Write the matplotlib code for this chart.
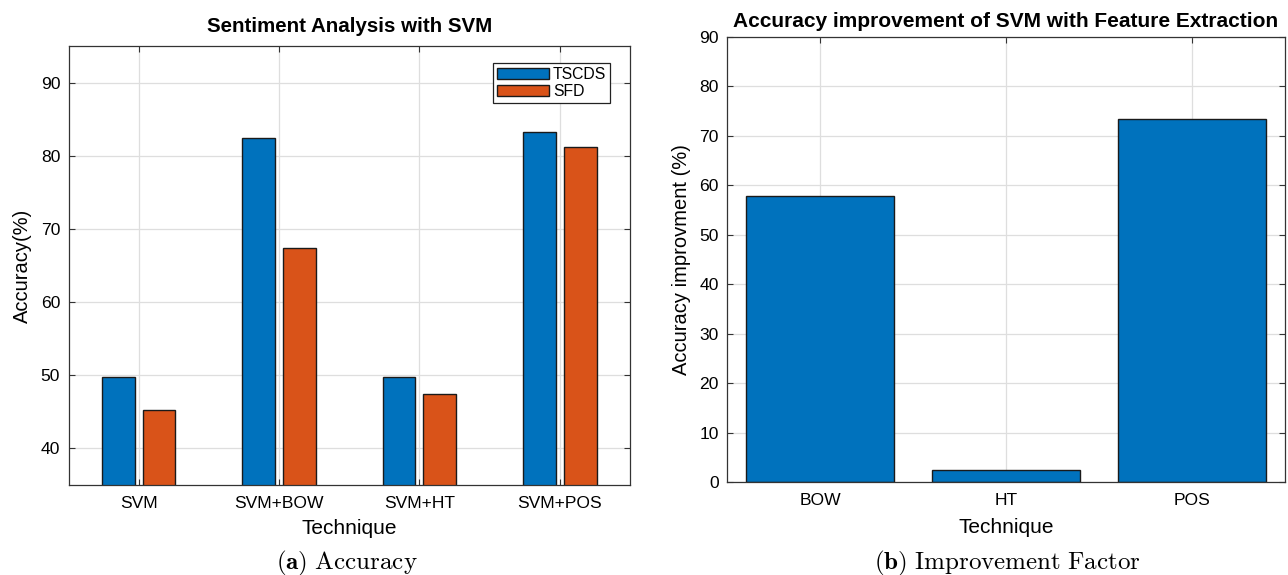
import matplotlib
matplotlib.use("Agg")
import matplotlib.pyplot as plt
import numpy as np

plt.rcParams["font.family"] = ["Liberation Sans", "DejaVu Sans"]
plt.rcParams["mathtext.fontset"] = "cm"

# Accuracy of each technique on the two datasets
techniques = ["SVM", "SVM+BOW", "SVM+HT", "SVM+POS"]
tscds = [49.7, 82.4, 49.7, 83.3]
sfd = [45.2, 67.4, 47.5, 81.2]

# Improvement factor of each feature extraction method
features = ["BOW", "HT", "POS"]
improvement = [57.8, 2.5, 73.5]

BLUE = "#0072BD"
ORANGE = "#D95319"
GRID = "#dedede"
SPINE = "#333333"
W, H = 1288, 575

fig = plt.figure(figsize=(W / 100, H / 100), dpi=100)


def style_axes(ax):
    ax.set_axisbelow(True)
    ax.grid(True, color=GRID, linewidth=0.9)
    ax.tick_params(direction="in", top=True, right=True, length=4,
                   labelsize=12.6, color=SPINE)
    ax.tick_params(axis="x", pad=8)
    ax.tick_params(axis="y", pad=6)
    for s in ax.spines.values():
        s.set_color(SPINE)
        s.set_linewidth(0.9)


def pix_axes(left, right, top, bottom):
    return fig.add_axes([left / W, 1 - bottom / H, (right - left) / W, (bottom - top) / H])


# (a) grouped bars
L1, R1, T1, B1 = 68.5, 630, 46, 485
ax1 = pix_axes(L1, R1, T1, B1)
x = np.arange(1, len(techniques) + 1)
off = 0.145
w = 0.233
ax1.bar(x - off, tscds, w, color=BLUE, edgecolor="#1a1a1a", linewidth=1.0, label="TSCDS")
ax1.bar(x + off, sfd, w, color=ORANGE, edgecolor="#1a1a1a", linewidth=1.0, label="SFD")
ax1.set_xlim(0.5, 4.5)
ax1.set_ylim(35, 95)
ax1.set_yticks([40, 50, 60, 70, 80, 90])
ax1.set_xticks(x)
ax1.set_xticklabels(techniques)
style_axes(ax1)
ax1.set_xlabel("Technique", fontsize=15, labelpad=6)
ax1.set_ylabel("Accuracy(%)", fontsize=14.5, labelpad=6)
ax1.set_title("Sentiment Analysis with SVM", fontsize=14.8, fontweight="bold", pad=10)
leg = ax1.legend(loc="upper right",
                 bbox_to_anchor=((610 - L1) / (R1 - L1), 1 - (63 - T1) / (B1 - T1)),
                 borderaxespad=0, fontsize=11.3, handlelength=3.3, handleheight=0.75,
                 borderpad=0.25, labelspacing=0.12, handletextpad=0.25,
                 fancybox=False, framealpha=1, edgecolor="#222222")
leg.get_frame().set_linewidth(0.9)

# (b) single bars
ax2 = pix_axes(727, 1285, 37, 482)
x2 = np.arange(1, len(features) + 1)
ax2.bar(x2, improvement, 0.8, color=BLUE, edgecolor="#1a1a1a", linewidth=1.0)
ax2.set_xlim(0.5, 3.5)
ax2.set_ylim(0, 90)
ax2.set_yticks(np.arange(0, 91, 10))
ax2.set_xticks(x2)
ax2.set_xticklabels(features)
style_axes(ax2)
ax2.set_xlabel("Technique", fontsize=15, labelpad=7)
ax2.set_ylabel("Accuracy improvment (%)", fontsize=14.5, labelpad=6)
ax2.set_title("Accuracy improvement of SVM with Feature Extraction", fontsize=15,
              fontweight="bold", pad=7)

# sub-figure captions
fig.text(347 / W, 1 - 563 / H, r"$\mathbf{(a)}\ \mathrm{Accuracy}$",
         ha="center", va="center", fontsize=18)
fig.text(1007 / W, 1 - 563 / H, r"$\mathbf{(b)}\ \mathrm{Improvement\ Factor}$",
         ha="center", va="center", fontsize=18)

fig.savefig("out.png", dpi=100)
